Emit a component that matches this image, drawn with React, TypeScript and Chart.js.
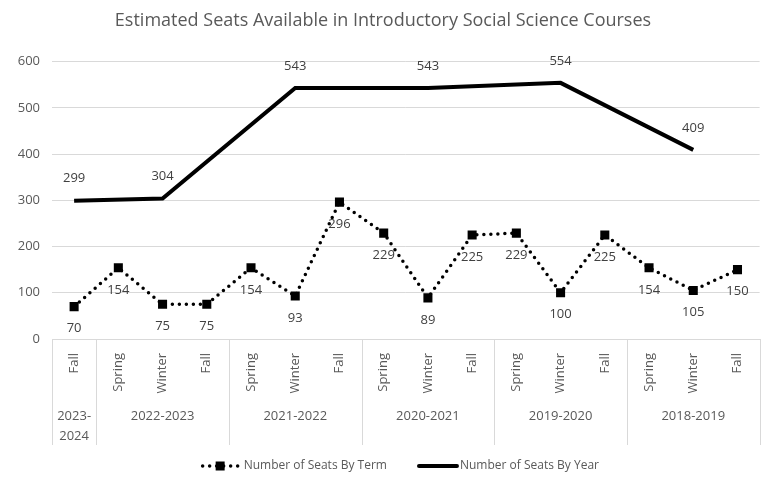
import React, { useEffect, useRef } from "react";
import { Chart, registerables } from "chart.js";

Chart.register(...registerables);

const terms = ["Fall", "Spring", "Winter", "Fall", "Spring", "Winter", "Fall", "Spring", "Winter", "Fall", "Spring", "Winter", "Fall", "Spring", "Winter", "Fall"];
const termSeats = [70, 154, 75, 75, 154, 93, 296, 229, 89, 225, 229, 100, 225, 154, 105, 150];
const yearSeats = [299, null, 304, null, null, 543, null, null, 543, null, null, 554, null, null, 409, null];
const yearGroups = [
  { label: ["2023-", "2024"], start: 0, end: 0 },
  { label: ["2022-2023"], start: 1, end: 3 },
  { label: ["2021-2022"], start: 4, end: 6 },
  { label: ["2020-2021"], start: 7, end: 9 },
  { label: ["2019-2020"], start: 10, end: 12 },
  { label: ["2018-2019"], start: 13, end: 15 },
];
const yTicks = [0, 100, 200, 300, 400, 500, 600];
const seriesNames = ["Number of Seats By Term", "Number of Seats By Year"];

const FONT = "'Open Sans', sans-serif";
const TEXT = "#595959";
const GRID = "#d9d9d9";

const groupPlugin = {
  id: "groupLabels",
  afterDraw(chart: any) {
    const x = chart.scales.x;
    const ctx = chart.ctx;
    const top = chart.chartArea.bottom;
    const half = (x.getPixelForTick(1) - x.getPixelForTick(0)) / 2;
    ctx.save();
    ctx.strokeStyle = GRID;
    ctx.lineWidth = 1;
    const lines: number[] = [x.getPixelForTick(0) - half];
    yearGroups.forEach((g) => lines.push(x.getPixelForTick(g.end) + half));
    lines.forEach((px) => {
      ctx.beginPath();
      ctx.moveTo(Math.round(px) + 0.5, top);
      ctx.lineTo(Math.round(px) + 0.5, top + 106);
      ctx.stroke();
    });
    ctx.fillStyle = TEXT;
    ctx.font = `13px ${FONT}`;
    ctx.textAlign = "center";
    ctx.textBaseline = "middle";
    yearGroups.forEach((g) => {
      const cx = (x.getPixelForTick(g.start) + x.getPixelForTick(g.end)) / 2;
      g.label.forEach((t, i) => ctx.fillText(t, cx, top + 77 + i * 20));
    });

    // legend
    ctx.font = `12px ${FONT}`;
    ctx.textAlign = "left";
    const iconW = 40;
    const gapText = 3;
    const gapItems = 30;
    const widths = seriesNames.map((n) => iconW + gapText + ctx.measureText(n).width);
    const total = widths[0] + gapItems + widths[1];
    const cxA = (chart.chartArea.left + chart.chartArea.right) / 2 - 6;
    let lx = cxA - total / 2;
    const ly = 466;
    seriesNames.forEach((n, i) => {
      ctx.save();
      ctx.strokeStyle = "#000";
      ctx.fillStyle = "#000";
      ctx.lineCap = "round";
      if (i === 0) {
        ctx.lineWidth = 3.5;
        ctx.setLineDash([0, 7]);
        ctx.beginPath();
        ctx.moveTo(lx + 2, ly);
        ctx.lineTo(lx + iconW, ly);
        ctx.stroke();
        ctx.setLineDash([]);
        ctx.fillRect(lx + iconW / 2 - 5, ly - 4.5, 9, 9);
      } else {
        ctx.lineWidth = 4;
        ctx.beginPath();
        ctx.moveTo(lx + 2, ly);
        ctx.lineTo(lx + iconW, ly);
        ctx.stroke();
      }
      ctx.restore();
      ctx.fillStyle = TEXT;
      ctx.fillText(n, lx + iconW + gapText, ly);
      lx += widths[i] + gapItems;
    });
    ctx.restore();
  },
};

const valuePlugin = {
  id: "valueLabels",
  afterDatasetsDraw(chart: any) {
    const ctx = chart.ctx;
    ctx.save();
    ctx.fillStyle = "#404040";
    ctx.font = `13px ${FONT}`;
    ctx.textAlign = "center";
    ctx.textBaseline = "middle";
    chart.data.datasets.forEach((ds: any, di: number) => {
      const meta = chart.getDatasetMeta(di);
      meta.data.forEach((pt: any, i: number) => {
        const v = ds.data[i];
        if (v === null || v === undefined) return;
        const off = di === 0 ? 22 : -22;
        ctx.fillText(String(v), pt.x, pt.y + off);
      });
    });
    ctx.restore();
  },
};

export default function App() {
  const ref = useRef<HTMLCanvasElement>(null);
  useEffect(() => {
    const chart = new Chart(ref.current!, {
      type: "line",
      data: {
        labels: terms,
        datasets: [
          {
            label: seriesNames[0],
            data: termSeats,
            borderColor: "#000",
            backgroundColor: "#000",
            borderWidth: 3.5,
            borderDash: [0, 7],
            borderCapStyle: "round",
            pointStyle: "rect",
            pointRadius: 6.4,
            pointBackgroundColor: "#000",
            pointBorderWidth: 0,
            tension: 0,
          },
          {
            label: seriesNames[1],
            data: yearSeats,
            borderColor: "#000",
            backgroundColor: "#000",
            borderWidth: 4,
            pointRadius: 0,
            spanGaps: true,
            tension: 0,
          },
        ],
      },
      options: {
        animation: false,
        responsive: false,
        layout: { padding: { left: 0, right: 0, top: 0, bottom: 31 } },
        plugins: {
          title: {
            display: true,
            text: "Estimated Seats Available in Introductory Social Science Courses",
            color: TEXT,
            font: { family: FONT, size: 18, weight: "normal" },
            padding: { top: 10, bottom: 30 },
          },
          legend: { display: false },
          tooltip: { enabled: false },
        },
        scales: {
          x: {
            offset: true,
            grid: { display: false },
            border: { color: GRID },
            ticks: {
              color: TEXT,
              font: { family: FONT, size: 13 },
              minRotation: 90,
              maxRotation: 90,
              autoSkip: false,
              padding: 6,
            },
            afterFit: (s: any) => {
              s.height = 110;
            },
          },
          y: {
            min: 0,
            max: 600,
            afterBuildTicks: (s: any) => {
              s.ticks = yTicks.map((v) => ({ value: v }));
            },
            grid: { color: GRID, drawTicks: false },
            border: { display: false },
            ticks: {
              color: TEXT,
              font: { family: FONT, size: 13 },
              padding: 12,
            },
            afterFit: (s: any) => {
              s.width = 52;
            },
          },
        },
      },
      plugins: [groupPlugin, valuePlugin],
    });
    return () => chart.destroy();
  }, []);
  return (
    <div style={{ position: "fixed", left: 0, top: 0, width: 766, height: 480, background: "#fff" }}>
      <canvas ref={ref} width={766} height={480} style={{ display: "block" }} />
    </div>
  );
}
